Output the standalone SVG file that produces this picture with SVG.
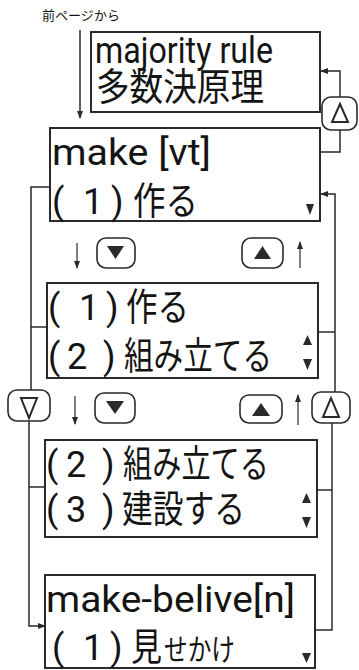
<svg xmlns="http://www.w3.org/2000/svg" width="359" height="670" viewBox="0 0 359 670">
<defs>
<style>
.box{fill:#fff;stroke:#2a2a2a;stroke-width:2}
.btn{fill:#fff;stroke:#2a2a2a;stroke-width:1.6}
.tri{fill:#2a2a2a}
.otri{fill:none;stroke:#2a2a2a;stroke-width:2;stroke-linejoin:miter}
.lat{font-family:Roboto,"Liberation Sans",sans-serif;font-size:36px;fill:#141414}
.jp{font-family:"Noto Sans CJK JP",sans-serif;font-size:38px;fill:#141414}
.sm{font-family:"Noto Sans CJK JP",sans-serif;font-size:13px;fill:#141414}
.con{fill:none;stroke:#2a2a2a;stroke-width:1.5}
.thin{fill:none;stroke:#2a2a2a;stroke-width:1.2}
</style>
<marker id="ah" markerWidth="8" markerHeight="6" refX="7" refY="3" orient="auto" markerUnits="userSpaceOnUse">
<path d="M0,0 L8,3 L0,6 z" fill="#2a2a2a"/>
</marker>
</defs>
<rect width="359" height="670" fill="#fff"/>

<g id="label-prev">
<text class="sm" x="42" y="20" textLength="78" lengthAdjust="spacingAndGlyphs">前ページから</text>
</g>

<g id="box1">
<rect class="box" x="91" y="32" width="229" height="80"/>
<text class="lat"><tspan x="95" y="63" textLength="178" lengthAdjust="spacingAndGlyphs">majority rule</tspan><tspan class="jp" x="96" y="100" textLength="168" lengthAdjust="spacingAndGlyphs">多数決原理</tspan></text>
</g>

<g id="box2">
<rect class="box" x="50" y="128" width="270" height="93"/>
<text class="lat"><tspan x="52" y="165" textLength="159" lengthAdjust="spacingAndGlyphs">make [vt]</tspan><tspan x="52" y="214">(</tspan><tspan x="83">1</tspan><tspan x="111">)</tspan><tspan class="jp" x="133" textLength="65" lengthAdjust="spacingAndGlyphs">作る</tspan></text>
<polygon class="tri" points="306,204 314,204 310,215"/>
</g>

<g id="box3">
<rect class="box" x="47" y="283" width="271" height="95"/>
<text class="lat"><tspan x="48" y="320">(</tspan><tspan x="79">1</tspan><tspan x="106">)</tspan><tspan class="jp" x="126" textLength="63" lengthAdjust="spacingAndGlyphs">作る</tspan><tspan x="48" y="369">(</tspan><tspan x="67">2</tspan><tspan x="103">)</tspan><tspan class="jp" x="124" textLength="148" lengthAdjust="spacingAndGlyphs">組み立てる</tspan></text>
<polygon class="tri" points="303,345 312,345 307.5,335"/>
<polygon class="tri" points="303,359 312,359 307.5,370"/>
</g>

<g id="box4">
<rect class="box" x="45" y="440" width="272" height="97"/>
<text class="lat"><tspan x="46" y="477">(</tspan><tspan x="66">2</tspan><tspan x="102">)</tspan><tspan class="jp" x="123" textLength="146" lengthAdjust="spacingAndGlyphs">組み立てる</tspan><tspan x="46" y="522">(</tspan><tspan x="66">3</tspan><tspan x="102">)</tspan><tspan class="jp" x="122" textLength="123" lengthAdjust="spacingAndGlyphs">建設する</tspan></text>
<polygon class="tri" points="302,503 311,503 306.5,493"/>
<polygon class="tri" points="302,517 311,517 306.5,528"/>
</g>

<g id="box5">
<rect class="box" x="45" y="575" width="270" height="93"/>
<text class="lat"><tspan x="46" y="612" textLength="249" lengthAdjust="spacingAndGlyphs">make-belive[n]</tspan><tspan x="52" y="660">(</tspan><tspan x="83">1</tspan><tspan x="110">)</tspan><tspan class="jp" x="131" textLength="31" lengthAdjust="spacingAndGlyphs">見</tspan><tspan class="jp" style="font-size:30px" x="164" textLength="71" lengthAdjust="spacingAndGlyphs">せかけ</tspan></text>
<polygon class="tri" points="302,653 311,653 306.5,663"/>
</g>

<g id="btn-up-top">
<rect class="btn" x="322" y="97" width="35" height="33" rx="9"/>
<polygon class="otri" points="340,104 332,122 348,122"/>
</g>

<g id="btn-down-1">
<rect class="btn" x="97" y="238" width="38" height="30" rx="9"/>
<polygon class="tri" points="107,246 124,246 115.5,259"/>
</g>
<g id="btn-up-1">
<rect class="btn" x="242" y="238" width="41" height="30" rx="9"/>
<polygon class="tri" points="254,259 271,259 262.5,246"/>
</g>

<g id="btn-pgdown">
<rect class="btn" x="8" y="390" width="42" height="31" rx="9"/>
<polygon class="otri" points="21,398 37,398 29,418"/>
</g>
<g id="btn-down-2">
<rect class="btn" x="95" y="393" width="40" height="30" rx="9"/>
<polygon class="tri" points="106,401 124,401 115,414"/>
</g>
<g id="btn-up-2">
<rect class="btn" x="240" y="395" width="42" height="28" rx="9"/>
<polygon class="tri" points="252,416 270,416 261,403"/>
</g>
<g id="btn-pgup">
<rect class="btn" x="312" y="392" width="38" height="31" rx="9"/>
<polygon class="otri" points="331,398 323,417 339,417"/>
</g>

<g id="connectors">
<path class="con" d="M80,30 V118" marker-end="url(#ah)"/>
<path class="con" d="M340,97 V71 H321" marker-end="url(#ah)"/>
<path class="con" d="M320,152 H340 V130"/>
<path class="con" d="M335,392 V194 H321" marker-end="url(#ah)"/>
<path class="con" d="M318,332 H335"/>
<path class="con" d="M332,423 V630 H315"/>
<path class="con" d="M317,490 H332"/>
<path class="con" d="M50,187 H31 V390"/>
<path class="con" d="M47,327 H31"/>
<path class="con" d="M29,421 V626 H45" marker-end="url(#ah)"/>
<path class="con" d="M45,487 H29"/>
<path class="thin" d="M77,243 V268" marker-end="url(#ah)"/>
<path class="thin" d="M300,268 V242" marker-end="url(#ah)"/>
<path class="thin" d="M75,396 V424" marker-end="url(#ah)"/>
<path class="thin" d="M298,425 V395" marker-end="url(#ah)"/>
</g>
</svg>
